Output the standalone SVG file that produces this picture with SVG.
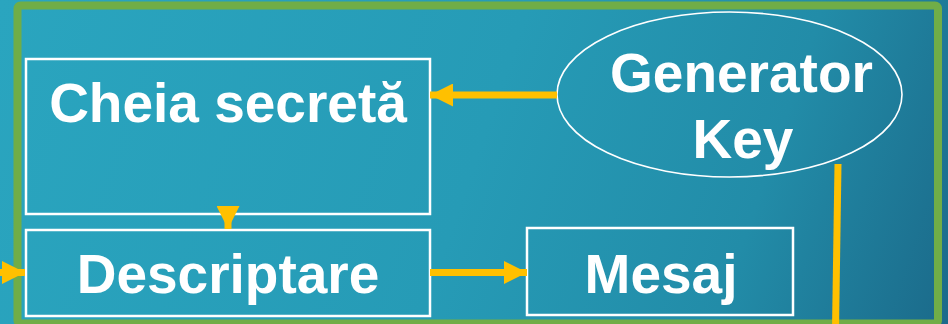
<svg xmlns="http://www.w3.org/2000/svg" width="948" height="324" viewBox="0 0 948 324">
  <defs>
    <linearGradient id="bg" x1="0" y1="0" x2="948" y2="324" gradientUnits="userSpaceOnUse">
      <stop offset="0" stop-color="#2aa5bf"/>
      <stop offset="0.5" stop-color="#269bb6"/>
      <stop offset="0.78" stop-color="#228ca8"/>
      <stop offset="1" stop-color="#1b6a8a"/>
    </linearGradient>
    <marker id="head" viewBox="0 0 23 23" refX="23" refY="11.5" markerWidth="23" markerHeight="23" markerUnits="userSpaceOnUse" orient="auto">
      <path d="M0,0 L23,11.5 L0,23 Z" fill="#ffc000"/>
    </marker>
    <style>
      .box { fill: none; stroke: #ffffff; stroke-width: 2.5; }
      .oval { fill: none; stroke: #ffffff; stroke-width: 1.6; }
      .label { font-family: "Liberation Sans", Arial, sans-serif; font-weight: bold; font-size: 55px; fill: #ffffff; text-anchor: middle; }
      .link { fill: none; stroke: #ffc000; stroke-width: 7; }
    </style>
  </defs>

  <!-- backdrop -->
  <rect x="0" y="0" width="948" height="324" fill="url(#bg)"/>
  <rect x="17.5" y="5.5" width="920.5" height="318" rx="3" fill="none" stroke="#70ad47" stroke-width="8"/>

  <g id="node-cheia">
    <rect class="box" x="26" y="59" width="404" height="155"/>
    <text class="label" x="228" y="122">Cheia secretă</text>
  </g>

  <g id="node-descriptare">
    <rect class="box" x="26" y="230" width="404" height="86"/>
    <text class="label" x="228" y="293">Descriptare</text>
  </g>

  <g id="node-mesaj">
    <rect class="box" x="527" y="228" width="266" height="87"/>
    <text class="label" x="661" y="293">Mesaj</text>
  </g>

  <g id="node-generator">
    <ellipse class="oval" cx="729.5" cy="94.5" rx="172.5" ry="82.5"/>
    <text class="label" x="741.5" y="92">Generator</text>
    <text class="label" x="743" y="158">Key</text>
  </g>

  <!-- connectors -->
  <g id="connectors">
    <line class="link" x1="557" y1="95" x2="430" y2="95" marker-end="url(#head)"/>
    <line class="link" x1="228" y1="214" x2="228" y2="229" stroke-width="0" marker-end="url(#head)"/>
    <line class="link" x1="-10" y1="272.5" x2="25" y2="272.5" marker-end="url(#head)"/>
    <line class="link" x1="430" y1="272.5" x2="527" y2="272.5" marker-end="url(#head)"/>
    <line class="link" x1="838" y1="164" x2="835.5" y2="330"/>
  </g>
</svg>
